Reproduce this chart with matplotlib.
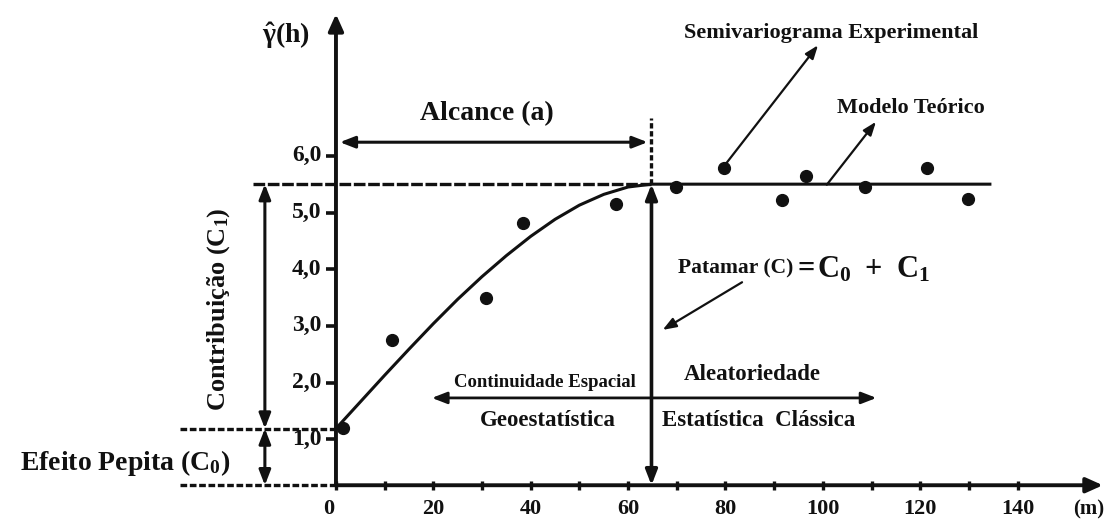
import matplotlib
matplotlib.use("Agg")
import matplotlib.pyplot as plt

# ---- data ----
lag = [1.5, 11.5, 30.8, 38.4, 57.5, 69.8, 79.7, 91.6, 96.5, 108.6, 121.3, 129.8]
gamma_exp = [1.20, 2.75, 3.49, 4.81, 5.15, 5.45, 5.78, 5.22, 5.64, 5.45, 5.78, 5.24]

model_h = [0, 5, 10, 15, 20, 25, 30, 35, 40, 45, 50, 55, 60, 64.8, 134.3]
model_g = [1.19, 1.66, 2.13, 2.59, 3.04, 3.47, 3.87, 4.24, 4.58, 4.88, 5.13, 5.32, 5.45, 5.50, 5.50]

nugget = 1.19
sill = 5.50
alcance = 64.8
x_base = 0.19

xticks_major = [0, 20, 40, 60, 80, 100, 120, 140]
xticks_minor = [10, 30, 50, 70, 90, 110, 130]
yticks = [1, 2, 3, 4, 5, 6]
ytick_labels = ["1,0", "2,0", "3,0", "4,0", "5,0", "6,0"]

plt.rcParams['font.family'] = ['Liberation Serif', 'DejaVu Serif']
plt.rcParams['font.weight'] = 'bold'
plt.rcParams['mathtext.fontset'] = 'custom'
plt.rcParams['mathtext.rm'] = 'Liberation Serif:bold'
plt.rcParams['mathtext.bf'] = 'Liberation Serif:bold'
plt.rcParams['mathtext.it'] = 'Liberation Serif:bold:italic'
plt.rcParams['mathtext.default'] = 'rm'

K = '#111111'
fig = plt.figure(figsize=(11.16, 5.20), dpi=100)
ax = fig.add_axes([0, 0, 1, 1])
ax.set_xlim(-69.0, 160.2)
ax.set_ylim(-0.423, 8.748)
ax.axis('off')

# axes lines with arrows
ax.annotate('', xy=(0, 8.50), xytext=(0, x_base),
            arrowprops=dict(arrowstyle='-|>,head_length=1.0,head_width=0.45', lw=2.8, color=K, shrinkA=0, shrinkB=0))
ax.annotate('', xy=(157.5, x_base), xytext=(0, x_base),
            arrowprops=dict(arrowstyle='-|>,head_length=1.0,head_width=0.45', lw=2.8, color=K, shrinkA=0, shrinkB=0))

# ticks
for t in xticks_major + xticks_minor:
    ax.plot([t, t], [x_base - 0.08, x_base + 0.08], color=K, lw=2.4, solid_capstyle='butt')
for t in xticks_major:
    ax.text(t - (1.5 if t == 0 else 0), x_base - 0.42, str(t), ha='center', va='center', fontsize=16, color=K)
ax.text(154.5, x_base - 0.42, '(m)', ha='center', va='center', fontsize=15, color=K)
for t, lab in zip(yticks, ytick_labels):
    ax.plot([-2.0, 0], [t, t], color=K, lw=2.6, solid_capstyle='butt')
    ax.text(-3.0, t, lab, ha='right', va='center', fontsize=17, color=K)
ax.text(-10.3, 8.13, r'$\hat{\gamma}$(h)', ha='center', va='center', fontsize=20, color=K)

# dashed reference lines
ax.plot([-32, 0], [nugget, nugget], color=K, lw=2.4, dashes=(2.0, 0.8))
ax.plot([-32, 0], [x_base, x_base], color=K, lw=2.4, dashes=(2.0, 0.8))
ax.plot([-17, alcance], [sill, sill], color=K, lw=2.4, dashes=(3.5, 0.8))
ax.plot([alcance, alcance], [sill, 6.67], color=K, lw=2.4, dashes=(1.6, 0.8))

# model and experimental points
ax.plot(model_h, model_g, color=K, lw=2.2)
ax.plot(lag, gamma_exp, 'o', color=K, ms=8.5)

def darrow(x0, y0, x1, y1, lw=2.2):
    ax.annotate('', xy=(x1, y1), xytext=(x0, y0),
                arrowprops=dict(arrowstyle='<|-|>,head_length=0.9,head_width=0.35', lw=lw, color=K,
                                shrinkA=0, shrinkB=0))

def sarrow(x0, y0, x1, y1, lw=1.6):
    ax.annotate('', xy=(x1, y1), xytext=(x0, y0),
                arrowprops=dict(arrowstyle='-|>,head_length=0.8,head_width=0.3', lw=lw, color=K,
                                shrinkA=0, shrinkB=0))

darrow(-14.6, nugget, -14.6, sill)
darrow(-14.6, x_base, -14.6, nugget)
darrow(0.8, 6.24, alcance - 0.8, 6.24)
darrow(alcance, x_base, alcance, sill, lw=2.6)
darrow(19.7, 1.73, 111.0, 1.73, lw=2.0)

sarrow(79.9, 5.84, 99.0, 7.95)
sarrow(100.8, 5.49, 110.9, 6.60)
sarrow(83.4, 3.77, 67.1, 2.93)

# labels
ax.text(31.0, 6.75, 'Alcance (a)', ha='center', va='center', fontsize=20, color=K)
ax.text(101.6, 8.16, 'Semivariograma Experimental', ha='center', va='center', fontsize=16, color=K)
ax.text(118.0, 6.84, 'Modelo Teórico', ha='center', va='center', fontsize=16, color=K)
ax.text(-24.2, 3.30, r'Contribuição (C$_{1}$)', ha='center', va='center', rotation=90, fontsize=19, color=K)
ax.text(-43.3, 0.58, r'Efeito Pepita (C$_{0}$)', ha='center', va='center', fontsize=20, color=K)
ax.text(70.2, 4.02, 'Patamar (C)', ha='left', va='center', fontsize=15.5, color=K)
ax.text(94.8, 3.99, '=', ha='left', va='center', fontsize=22, color=K)
ax.text(98.8, 3.99, r'C$_{0}$', ha='left', va='center', fontsize=22, color=K)
ax.text(108.6, 3.99, '+', ha='left', va='center', fontsize=22, color=K)
ax.text(115.0, 3.99, r'C$_{1}$', ha='left', va='center', fontsize=22, color=K)
ax.text(42.9, 2.01, 'Continuidade Espacial', ha='center', va='center', fontsize=13.5, color=K)
ax.text(85.4, 2.14, 'Aleatoriedade', ha='center', va='center', fontsize=16.5, color=K)
ax.text(43.5, 1.34, 'Geoestatística', ha='center', va='center', fontsize=16.5, color=K)
ax.text(86.9, 1.34, 'Estatística  Clássica', ha='center', va='center', fontsize=16.5, color=K)

fig.savefig('out.png', dpi=100)
